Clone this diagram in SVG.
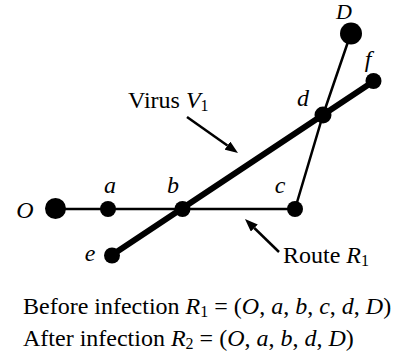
<svg xmlns="http://www.w3.org/2000/svg" width="395" height="364" viewBox="0 0 395 364">
<style>
text{font-family:"Liberation Serif","Times New Roman",serif;fill:#000}
.lbl{font-size:24px;font-style:italic;text-anchor:middle}
.txt{font-size:24px}
.it{font-style:italic}
.sub{font-size:16px}
.route{stroke:#000;stroke-width:2.5;fill:none}
.virus{stroke:#000;stroke-width:6;stroke-linecap:round;fill:none}
.ptr{stroke:#000;stroke-width:2.5;fill:none;marker-end:url(#ah)}
.node{fill:#000}
</style>
<defs>
<marker id="ah" markerWidth="13" markerHeight="10" refX="0" refY="5" orient="auto" markerUnits="userSpaceOnUse"><path d="M0,0 L13,5 L0,10 Z" fill="#000"/></marker>
</defs>
<g id="connectors">
<polyline class="route" points="55,209 295,209 323,115 351,33"/>
<line class="virus" x1="112" y1="255" x2="374" y2="81"/>
<line class="ptr" x1="187" y1="117" x2="227.4" y2="145.6"/>
<line class="ptr" x1="279" y1="252" x2="254.3" y2="228"/>
</g>
<g id="node-O"><circle class="node" cx="55.5" cy="208.5" r="10.5"/><text class="lbl" x="25" y="218">O</text></g>
<g id="node-a"><circle class="node" cx="108" cy="209" r="8"/><text class="lbl" x="110" y="193">a</text></g>
<g id="node-b"><circle class="node" cx="182.5" cy="209" r="8"/><text class="lbl" x="173" y="193">b</text></g>
<g id="node-c"><circle class="node" cx="295" cy="209" r="8"/><text class="lbl" x="280" y="193">c</text></g>
<g id="node-d"><circle class="node" cx="323" cy="115" r="8.5"/><text class="lbl" x="303" y="106">d</text></g>
<g id="node-D"><circle class="node" cx="351" cy="33.5" r="11"/><text class="lbl" x="344" y="19" style="font-size:22px">D</text></g>
<g id="node-e"><circle class="node" cx="112" cy="255.5" r="8"/><text class="lbl" x="90" y="261">e</text></g>
<g id="node-f"><circle class="node" cx="373.5" cy="81" r="8"/><text class="lbl" x="368" y="67">f</text></g>
<g id="label-virus"><text class="txt" x="128" y="108">Virus <tspan class="it">V</tspan><tspan class="sub" dy="3">1</tspan></text></g>
<g id="label-route"><text class="txt" x="283" y="263">Route <tspan class="it">R</tspan><tspan class="sub" dy="3">1</tspan></text></g>
<g id="legend">
<text class="txt" x="23" y="314">Before infection <tspan class="it">R</tspan><tspan class="sub" dy="3">1</tspan><tspan dy="-3"> = (</tspan><tspan class="it">O</tspan>, <tspan class="it">a</tspan>, <tspan class="it">b</tspan>, <tspan class="it">c</tspan>, <tspan class="it">d</tspan>, <tspan class="it">D</tspan>)</text>
<text class="txt" x="23" y="346">After infection <tspan class="it">R</tspan><tspan class="sub" dy="3">2</tspan><tspan dy="-3"> = (</tspan><tspan class="it">O</tspan>, <tspan class="it">a</tspan>, <tspan class="it">b</tspan>, <tspan class="it">d</tspan>, <tspan class="it">D</tspan>)</text>
</g>
</svg>
